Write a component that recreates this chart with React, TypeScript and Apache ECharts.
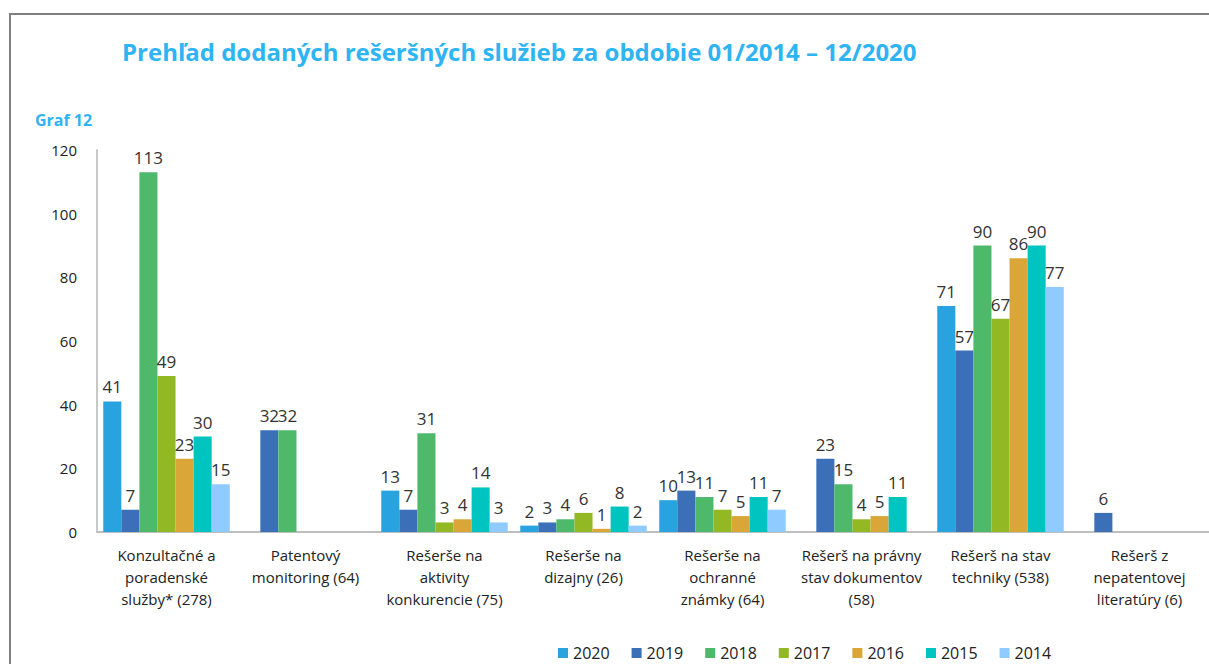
import React, { useEffect, useRef } from "react";
import * as echarts from "echarts";

const categories = [
  "Konzultačné a\nporadenské\nslužby* (278)",
  "Patentový\nmonitoring (64)",
  "Rešerše na\naktivity\nkonkurencie (75)",
  "Rešerše na\ndizajny (26)",
  "Rešerše na\nochranné\nznámky (64)",
  "Rešerš na právny\nstav dokumentov\n(58)",
  "Rešerš na stav\ntechniky (538)",
  "Rešerš z\nnepatentovej\nliteratúry (6)",
];

const years = ["2020", "2019", "2018", "2017", "2016", "2015", "2014"];

const v2020 = [41, null, 13, 2, 10, null, 71, null];
const v2019 = [7, 32, 7, 3, 13, 23, 57, 6];
const v2018 = [113, 32, 31, 4, 11, 15, 90, null];
const v2017 = [49, null, 3, 6, 7, 4, 67, null];
const v2016 = [23, null, 4, 1, 5, 5, 86, null];
const v2015 = [30, null, 14, 8, 11, 11, 90, null];
const v2014 = [15, null, 3, 2, 7, null, 77, null];

const seriesValues = [v2020, v2019, v2018, v2017, v2016, v2015, v2014];
const colors = ["#29a3e0", "#3b70b9", "#4fb96b", "#92b823", "#daa637", "#00c4c0", "#8fcbff"];

const yTicks = { min: 0, max: 120, interval: 20 };

const FONT = "'Open Sans', sans-serif";

export default function App() {
  const ref = useRef<HTMLDivElement>(null);
  useEffect(() => {
    if (!ref.current) return;
    const chart = echarts.init(ref.current, null, { renderer: "svg" });
    chart.setOption({
      animation: false,
      backgroundColor: "#ffffff",
      textStyle: { fontFamily: FONT },
      title: {
        text: "Prehľad dodaných rešeršných služieb za obdobie 01/2014 – 12/2020",
        left: 117,
        top: 34,
        textStyle: { color: "#2eb4f2", fontSize: 24, fontWeight: "bold", fontFamily: FONT },
      },
      graphic: [
        { type: "line", shape: { x1: 9, y1: 14, x2: 1209, y2: 14 }, style: { stroke: "#7f7f7f", lineWidth: 2 } },
        { type: "line", shape: { x1: 10, y1: 13, x2: 10, y2: 664 }, style: { stroke: "#7f7f7f", lineWidth: 2 } },
        {
          type: "text",
          left: 35,
          top: 112,
          style: { text: "Graf 12", fill: "#2eb4f2", font: `bold 16px ${FONT}` },
        },
      ],
      legend: {
        data: years,
        left: 553,
        top: 640,
        itemWidth: 10,
        itemHeight: 10,
        itemGap: 22,
        icon: "rect",
        textStyle: { fontSize: 16, color: "#222", fontFamily: FONT },
      },
      grid: { left: 97, top: 150, width: 1120, bottom: 132 },
      xAxis: {
        type: "category",
        data: categories,
        axisTick: { show: false },
        axisLine: { lineStyle: { color: "#bfbfbf", width: 2 } },
        axisLabel: {
          interval: 0,
          margin: 12,
          fontSize: 15,
          lineHeight: 22,
          color: "#222",
          fontFamily: FONT,
        },
      },
      yAxis: {
        type: "value",
        min: yTicks.min,
        max: yTicks.max,
        interval: yTicks.interval,
        splitLine: { show: false },
        axisLine: { show: true, lineStyle: { color: "#c8c8c8", width: 2 } },
        axisTick: { show: false },
        axisLabel: { fontSize: 15, color: "#222", margin: 20, fontFamily: FONT },
      },
      series: years.map((y, i) => ({
        name: y,
        type: "bar",
        data: seriesValues[i],
        barGap: "0%",
        barCategoryGap: "9%",
        itemStyle: { color: colors[i] },
        label: {
          show: true,
          position: "top",
          distance: 6,
          fontSize: 17,
          color: "#333",
          fontFamily: FONT,
        },
      })),
    });
    return () => chart.dispose();
  }, []);
  return (
    <div
      ref={ref}
      style={{ position: "fixed", left: 0, top: 0, width: 1209, height: 664, overflow: "hidden" }}
    />
  );
}
